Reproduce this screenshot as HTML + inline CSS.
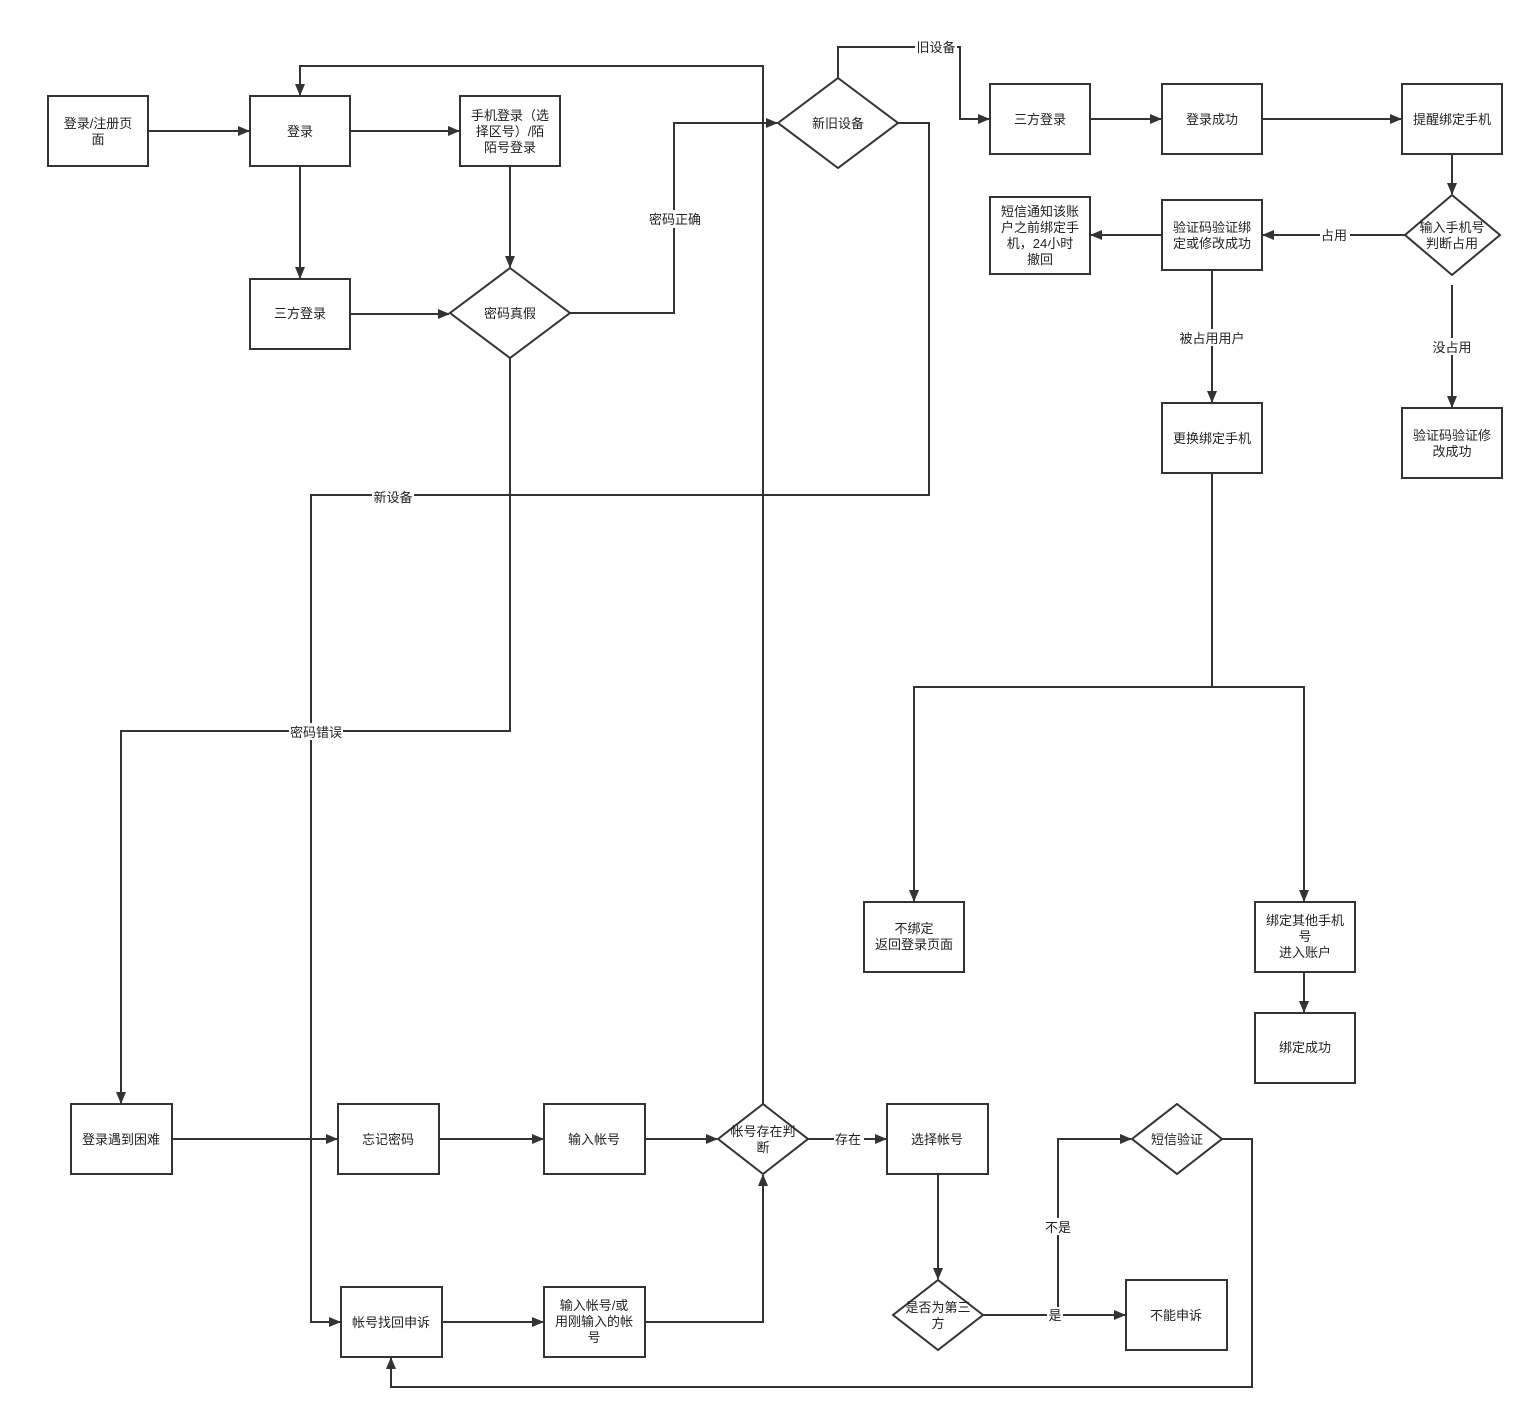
<!DOCTYPE html>
<html><head><meta charset="utf-8"><style>
html,body{margin:0;padding:0;background:#fff;}
svg{display:block;}
text{font-family:"Liberation Sans","Noto Sans CJK SC",sans-serif;font-size:13px;fill:#222;}
</style></head><body>
<svg width="1534" height="1419" viewBox="0 0 1534 1419" xmlns="http://www.w3.org/2000/svg">
<defs><marker id="a" markerWidth="12" markerHeight="10" refX="11" refY="5" orient="auto" markerUnits="userSpaceOnUse"><path d="M0,0 L12,5 L0,10 z" fill="#333"/></marker></defs>
<rect width="1534" height="1419" fill="#fff"/>
<g fill="none" stroke="#333" stroke-width="2">
<!-- shapes -->
<rect x="48" y="96" width="100" height="70"/>
<rect x="250" y="96" width="100" height="70"/>
<rect x="460" y="96" width="100" height="70"/>
<rect x="250" y="279" width="100" height="70"/>
<polygon points="510,268 570,313 510,358 450,313"/>
<polygon points="838,78 898,123 838,168 778,123"/>
<rect x="990" y="84" width="100" height="70"/>
<rect x="1162" y="84" width="100" height="70"/>
<rect x="1402" y="84" width="100" height="70"/>
<polygon points="1452,195 1500,235 1452,275 1405,235"/>
<rect x="1162" y="200" width="100" height="70"/>
<rect x="990" y="197" width="100" height="77"/>
<rect x="1402" y="408" width="100" height="70"/>
<rect x="1162" y="403" width="100" height="70"/>
<rect x="864" y="902" width="100" height="70"/>
<rect x="1255" y="902" width="100" height="70"/>
<rect x="1255" y="1013" width="100" height="70"/>
<rect x="71" y="1104" width="101" height="70"/>
<rect x="338" y="1104" width="101" height="70"/>
<rect x="544" y="1104" width="101" height="70"/>
<polygon points="763,1104 808,1139 763,1174 718,1139"/>
<rect x="887" y="1104" width="101" height="70"/>
<polygon points="1177,1104 1222,1139 1177,1174 1132,1139"/>
<polygon points="938,1280 983,1315 938,1350 893,1315"/>
<rect x="1126" y="1280" width="101" height="70"/>
<rect x="341" y="1287" width="101" height="70"/>
<rect x="544" y="1287" width="101" height="70"/>
</g>
<g fill="none" stroke="#333" stroke-width="2" marker-end="url(#a)">
<path d="M148,131 H249"/>
<path d="M350,131 H459"/>
<path d="M300,166 V278"/>
<path d="M510,166 V267"/>
<path d="M350,314 H449"/>
<path d="M570,313 H674 V123 H777"/>
<path d="M763,1104 V66 H300 V95"/>
<path d="M838,78 V47 H960 V119 H989"/>
<path d="M898,123 H929 V495 H311 V1322 H340"/>
<path d="M510,358 V731 H121 V1103"/>
<path d="M1090,119 H1161"/>
<path d="M1262,119 H1401"/>
<path d="M1452,154 V194"/>
<path d="M1405,235 H1263"/>
<path d="M1162,235 H1091"/>
<path d="M1452,285 V407"/>
<path d="M1212,270 V402"/>
<path d="M1212,473 V687 H914 V901"/>
<path d="M1212,687 H1304 V901"/>
<path d="M1304,972 V1012"/>
<path d="M172,1139 H337"/>
<path d="M439,1139 H543"/>
<path d="M645,1139 H717"/>
<path d="M808,1139 H886"/>
<path d="M938,1174 V1279"/>
<path d="M983,1315 H1125"/>
<path d="M1058,1315 V1139 H1131"/>
<path d="M1222,1139 H1252 V1387 H391 V1358"/>
<path d="M442,1322 H543"/>
<path d="M645,1322 H763 V1175"/>
</g>
<!-- edge labels -->
<g>
<rect x="648" y="210" width="54" height="18" fill="#fff"/>
<rect x="915" y="39" width="42" height="17" fill="#fff"/>
<rect x="372" y="488" width="42" height="17" fill="#fff"/>
<rect x="289" y="723" width="54" height="17" fill="#fff"/>
<rect x="1320" y="227" width="30" height="17" fill="#fff"/>
<rect x="1430" y="338" width="44" height="17" fill="#fff"/>
<rect x="1178" y="329" width="68" height="17" fill="#fff"/>
<rect x="834" y="1131" width="30" height="17" fill="#fff"/>
<rect x="1043" y="1218" width="30" height="17" fill="#fff"/>
<rect x="1047" y="1307" width="16" height="17" fill="#fff"/>
</g>
<g text-anchor="middle">
<text x="675" y="224">密码正确</text>
<text x="936" y="52">旧设备</text>
<text x="393" y="502">新设备</text>
<text x="316" y="737">密码错误</text>
<text x="1334" y="240">占用</text>
<text x="1452" y="352">没占用</text>
<text x="1212" y="343">被占用用户</text>
<text x="848" y="1144">存在</text>
<text x="1058" y="1232">不是</text>
<text x="1055" y="1320">是</text>
<!-- node labels -->
<text x="98" y="128">登录/注册页</text><text x="98" y="144">面</text>
<text x="300" y="136">登录</text>
<text x="510" y="120">手机登录（选</text><text x="510" y="136">择区号）/陌</text><text x="510" y="152">陌号登录</text>
<text x="300" y="318">三方登录</text>
<text x="510" y="318">密码真假</text>
<text x="838" y="128">新旧设备</text>
<text x="1040" y="124">三方登录</text>
<text x="1212" y="124">登录成功</text>
<text x="1452" y="124">提醒绑定手机</text>
<text x="1452" y="232">输入手机号</text><text x="1452" y="248">判断占用</text>
<text x="1212" y="232">验证码验证绑</text><text x="1212" y="248">定或修改成功</text>
<text x="1040" y="216">短信通知该账</text><text x="1040" y="232">户之前绑定手</text><text x="1040" y="248">机，24小时</text><text x="1040" y="264">撤回</text>
<text x="1452" y="440">验证码验证修</text><text x="1452" y="456">改成功</text>
<text x="1212" y="443">更换绑定手机</text>
<text x="914" y="933">不绑定</text><text x="914" y="949">返回登录页面</text>
<text x="1305" y="925">绑定其他手机</text><text x="1305" y="941">号</text><text x="1305" y="957">进入账户</text>
<text x="1305" y="1052">绑定成功</text>
<text x="121" y="1144">登录遇到困难</text>
<text x="388" y="1144">忘记密码</text>
<text x="594" y="1144">输入帐号</text>
<text x="763" y="1136">帐号存在判</text><text x="763" y="1152">断</text>
<text x="937" y="1144">选择帐号</text>
<text x="1177" y="1144">短信验证</text>
<text x="938" y="1312">是否为第三</text><text x="938" y="1328">方</text>
<text x="1176" y="1320">不能申诉</text>
<text x="391" y="1327">帐号找回申诉</text>
<text x="594" y="1310">输入帐号/或</text><text x="594" y="1326">用刚输入的帐</text><text x="594" y="1342">号</text>
</g>
</svg>
</body></html>
